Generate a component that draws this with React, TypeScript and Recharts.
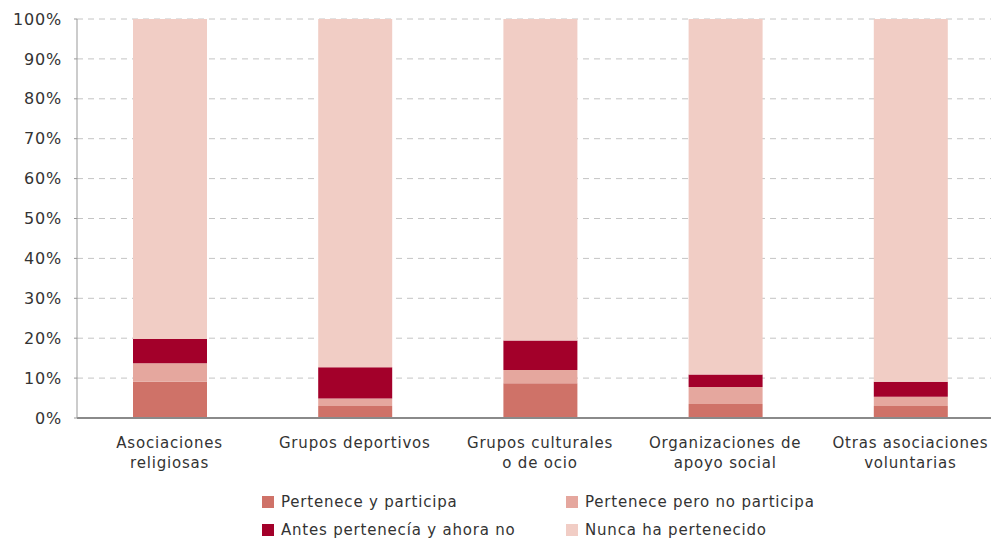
import { BarChart, Bar, XAxis, YAxis, CartesianGrid } from 'recharts'

// Values (percent of respondents)
const categories = [
  'Asociaciones\nreligiosas',
  'Grupos deportivos',
  'Grupos culturales\no de ocio',
  'Organizaciones de\napoyo social',
  'Otras asociaciones\nvoluntarias',
]
const participa = [9.1, 3.0, 8.7, 3.5, 3.0]
const perteneceNoParticipa = [4.6, 1.9, 3.3, 4.3, 2.3]
const antesPertenecia = [6.1, 7.8, 7.4, 3.1, 3.8]
const nuncaPertenecido = [80.2, 87.3, 80.6, 89.1, 90.9]
const yTicks = [0, 10, 20, 30, 40, 50, 60, 70, 80, 90, 100]

const series = [
  { key: 'participa', name: 'Pertenece y participa', color: '#cf7268', values: participa },
  { key: 'noParticipa', name: 'Pertenece pero no participa', color: '#e5a79e', values: perteneceNoParticipa },
  { key: 'antes', name: 'Antes pertenecía y ahora no', color: '#a3002a', values: antesPertenecia },
  { key: 'nunca', name: 'Nunca ha pertenecido', color: '#f1cdc5', values: nuncaPertenecido },
]

const data = categories.map((name, i) => {
  const row: Record<string, string | number> = { name }
  series.forEach(s => { row[s.key] = s.values[i] })
  return row
})

const FONT = '"DejaVu Sans", Verdana, sans-serif'
const TEXT = '#333'

const CategoryTick = (props: any) => {
  const { x, y, payload } = props
  const lines = String(payload.value).split('\n')
  return (
    <text x={x} y={y + 28} textAnchor="middle" fill={TEXT} fontSize={15} fontFamily={FONT} letterSpacing={0.8}>
      {lines.map((line, i) => (
        <tspan key={i} x={x} dy={i === 0 ? 0 : 20}>{line}</tspan>
      ))}
    </text>
  )
}

// legend layout: two columns, two rows
const legendPos = [
  { left: 262, top: 502 },
  { left: 566, top: 502 },
  { left: 262, top: 530 },
  { left: 566, top: 530 },
]

export default function App() {
  return (
    <div style={{ position: 'absolute', left: 0, top: 0, width: 991, height: 539, overflow: 'hidden', background: '#fff' }}>
      <BarChart
        width={1010}
        height={539}
        data={data}
        margin={{ top: 19, right: 7, bottom: 0, left: 0 }}
        barSize={74}
      >
        <CartesianGrid vertical={false} stroke="#c4c4c4" strokeDasharray="6 5" />
        <XAxis
          dataKey="name"
          interval={0}
          height={121}
          tickLine={false}
          tickSize={0}
          axisLine={{ stroke: '#8a8a8a', strokeWidth: 2 }}
          tick={<CategoryTick />}
        />
        <YAxis
          width={77}
          domain={[0, 100]}
          ticks={yTicks}
          interval={0}
          tickFormatter={(v: number) => `${v}%`}
          tickLine={{ stroke: '#999' }}
          tickSize={3}
          tickMargin={12}
          axisLine={{ stroke: '#999' }}
          tick={{ fill: TEXT, fontSize: 16, fontFamily: FONT, letterSpacing: 0.8 }}
        />
        {series.map(s => (
          <Bar key={s.key} dataKey={s.key} name={s.name} stackId="a" fill={s.color} isAnimationActive={false} />
        ))}
      </BarChart>
      {series.map((s, i) => (
        <div
          key={s.key}
          style={{
            position: 'absolute',
            left: legendPos[i].left,
            top: legendPos[i].top - 10,
            height: 20,
            display: 'flex',
            alignItems: 'center',
            fontFamily: FONT,
            fontSize: 15,
            letterSpacing: 0.8,
            color: TEXT,
            whiteSpace: 'nowrap',
          }}
        >
          <span style={{ width: 12, height: 12, background: s.color, marginRight: 7, display: 'inline-block' }} />
          {s.name}
        </div>
      ))}
    </div>
  )
}
